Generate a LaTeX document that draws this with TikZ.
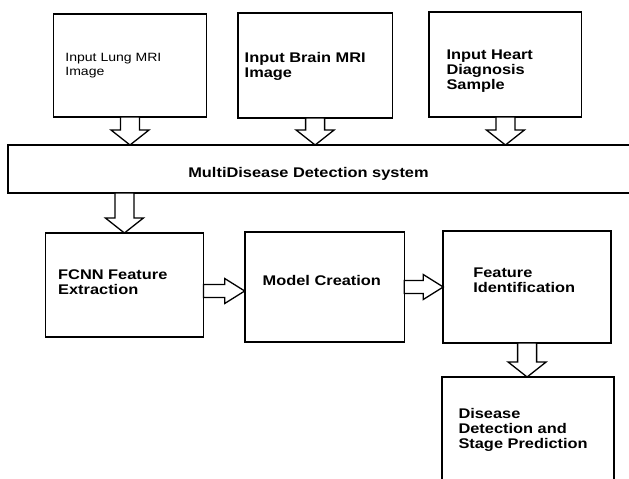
\documentclass[tikz,border=0pt]{standalone}
\usepackage{fontspec}
\setmainfont{Liberation Sans}[FakeStretch=1.17]
\usetikzlibrary{calc}
\tikzset{
  box/.style={draw=black, line width=1.6pt, fill=white, inner sep=0pt, outer sep=0pt},
  barrow/.style={draw=black, line width=1.3pt, fill=white, line join=miter},
  lbl/.style={anchor=north west, inner sep=0pt, outer sep=0pt, align=left,
    font=\fontsize{14}{15}\selectfont\bfseries},
  lblsmall/.style={anchor=north west, inner sep=0pt, outer sep=0pt, align=left,
    font=\fontsize{12}{14}\selectfont}
}
\newcommand{\varrow}[2]{\draw[barrow] let \p1=(#1), \p2=(#2) in
  (\x1-9.5pt,\y1) -- (\x1-9.5pt,\y2+15pt) -- (\x1-19pt,\y2+15pt) -- (\x1,\y2)
  -- (\x1+19pt,\y2+15pt) -- (\x1+9.5pt,\y2+15pt) -- (\x1+9.5pt,\y1) -- cycle;}
\newcommand{\harrow}[2]{\draw[barrow] let \p1=(#1), \p2=(#2) in
  (\x1,\y1+6.5pt) -- (\x2-20pt,\y1+6.5pt) -- (\x2-20pt,\y1+12.5pt) -- (\x2,\y1)
  -- (\x2-20pt,\y1-12.5pt) -- (\x2-20pt,\y1-6.5pt) -- (\x1,\y1-6.5pt) -- cycle;}
\begin{document}
\begin{tikzpicture}[x=1pt,y=-1pt]
\useasboundingbox (0,0) rectangle (629,479);
% boxes
\node[box, minimum width=153.3pt, minimum height=103pt] (b1) at (130,65.5) {};
\node[box, minimum width=154.4pt, minimum height=105pt] (b2) at (315.1,65.5) {};
\node[box, minimum width=152.4pt, minimum height=105pt] (b3) at (505.4,64.5) {};
\node[box, minimum width=640pt, minimum height=48pt] (sys) at (328,169) {};
\node[box, minimum width=158.1pt, minimum height=104pt] (fcnn) at (124.4,285) {};
\node[box, minimum width=159.6pt, minimum height=110pt] (model) at (324.5,287) {};
\node[box, minimum width=167.7pt, minimum height=112pt] (fi) at (527.1,287) {};
\node[box, minimum width=171.7pt, minimum height=120pt] (dis) at (527.9,437) {};
% labels
\node[lblsmall] (t1) at (65.4,53.5) {Input Lung MRI\\Image};
\node[lbl] (t2) at (244.7,52) {Input Brain MRI\\Image};
\node[lbl] (t3) at (446.5,50) {Input Heart\\Diagnosis\\Sample};
\node[anchor=base, inner sep=0pt, font=\fontsize{14}{15}\selectfont\bfseries] (tsys) at (308.5,177) {MultiDisease Detection system};
\node[lbl] (tf) at (58.2,270) {FCNN Feature\\Extraction};
\node[lbl] (tm) at (262.7,275) {Model Creation};
\node[lbl] (tfi) at (473.3,268) {Feature\\Identification};
\node[lbl] (td) at (458.5,408) {Disease\\Detection and\\Stage Prediction};
% block arrows
\varrow{b1.south}{b1.south |- sys.north}
\varrow{b2.south}{b2.south |- sys.north}
\varrow{b3.south}{b3.south |- sys.north}
\varrow{fcnn.north |- sys.south}{fcnn.north}
\harrow{fcnn.east |- 0,291}{model.west |- 0,291}
\harrow{model.east |- 0,287}{fi.west |- 0,287}
\varrow{fi.south}{dis.north}
\end{tikzpicture}
\end{document}
